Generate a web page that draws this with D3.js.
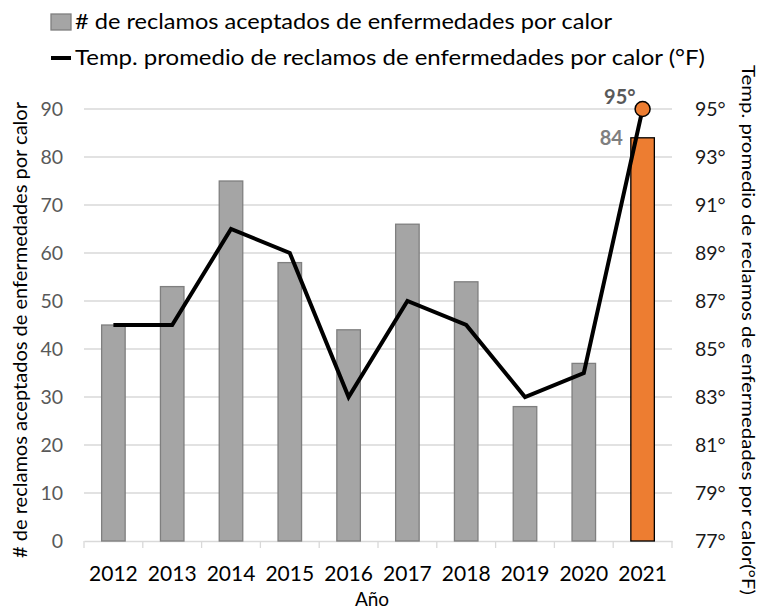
<!DOCTYPE html>
<html><head><meta charset="utf-8">
<script src="https://cdn.jsdelivr.net/npm/d3@7"></script>
<style>html,body{margin:0;padding:0;background:#fff;}svg{display:block;font-family:Lato,sans-serif;}</style>
</head><body><svg id="c" width="758" height="613"></svg>
<script>
const years = ["2012","2013","2014","2015","2016","2017","2018","2019","2020","2021"];
const claims = [45, 53, 75, 58, 44, 66, 54, 28, 37, 84];
const temps = [86, 86, 90, 89, 83, 87, 86, 83, 84, 95];
const leftTicks = [0,10,20,30,40,50,60,70,80,90];
const rightTicks = [77,79,81,83,85,87,89,91,93,95];
const seriesNames = ["# de reclamos aceptados de enfermedades por calor", "Temp. promedio de reclamos de enfermedades por calor  (°F)"];
const leftTitle = "# de reclamos aceptados de enfermedades por calor";
const rightTitle = "Temp. promedio de reclamos de enfermedades por calor(°F)";
const xTitle = "Año";

const svg = d3.select("#c");
const pL = 84, pR = 672, pT = 109, pB = 541;
const x = d3.scaleBand().domain(years).range([pL, pR]).padding(0);
const yL = d3.scaleLinear().domain([0, 90]).range([pB, pT]);
const yR = d3.scaleLinear().domain([77, 95]).range([pB, pT]);
const font = "Lato, sans-serif";

// gridlines
svg.append("g").selectAll("line").data(leftTicks.filter(d => d > 0)).join("line")
  .attr("x1", pL).attr("x2", pR).attr("y1", d => yL(d)).attr("y2", d => yL(d))
  .attr("stroke", "#d9d9d9").attr("stroke-width", 1.3);

// bottom axis
const xAxis = svg.append("g").attr("transform", `translate(0,${pB})`)
  .call(d3.axisBottom(x).tickSize(0));
xAxis.select(".domain").attr("stroke", "#d9d9d9").attr("stroke-width", 1.3);
xAxis.selectAll("text").attr("y", 40).attr("dy", 0)
  .attr("font-family", font).attr("font-size", 21).attr("fill", "#000");
const bounds = years.map(y => x(y)).concat([pR]);
svg.append("g").selectAll("line").data(bounds).join("line")
  .attr("x1", d => d).attr("x2", d => d).attr("y1", pB).attr("y2", pB + 7)
  .attr("stroke", "#d9d9d9").attr("stroke-width", 1.3);

// left axis labels
const lAx = svg.append("g").attr("transform", `translate(${pL},0)`)
  .call(d3.axisLeft(yL).tickValues(leftTicks).tickSize(0).tickPadding(21));
lAx.select(".domain").remove();
lAx.selectAll("text").attr("font-family", font).attr("font-size", 19.5).attr("fill", "#595959");

// right axis labels
const rAx = svg.append("g").attr("transform", `translate(${pR},0)`)
  .call(d3.axisRight(yR).tickValues(rightTicks).tickSize(0).tickPadding(23).tickFormat(d => d + "°"));
rAx.select(".domain").remove();
rAx.selectAll("text").attr("font-family", font).attr("font-size", 19.5).attr("fill", "#1a1a1a");

// bars
const bw = x.bandwidth() * 0.40;
svg.append("g").selectAll("rect").data(years).join("rect")
  .attr("x", (d) => x(d) + x.bandwidth()/2 - bw/2)
  .attr("y", (d,i) => yL(claims[i]))
  .attr("width", bw)
  .attr("height", (d,i) => pB - yL(claims[i]))
  .attr("fill", (d,i) => i === years.length-1 ? "#ed7d31" : "#a5a5a5")
  .attr("stroke", (d,i) => i === years.length-1 ? "#000" : "#7f7f7f")
  .attr("stroke-width", 1.3);

// line
const line = d3.line().x((d,i) => x(years[i]) + x.bandwidth()/2).y(d => yR(d));
svg.append("path").datum(temps).attr("d", line)
  .attr("fill", "none").attr("stroke", "#000").attr("stroke-width", 4).attr("stroke-linejoin", "miter");

// marker on last point
const li = years.length - 1;
svg.append("circle").attr("cx", x(years[li]) + x.bandwidth()/2).attr("cy", yR(temps[li]))
  .attr("r", 7.5).attr("fill", "#ed7d31").attr("stroke", "#000").attr("stroke-width", 1.5);

// data labels
svg.append("text").attr("x", x(years[li]) + x.bandwidth()/2 - 7).attr("y", yR(temps[li]) - 5)
  .attr("text-anchor", "end").attr("font-family", font).attr("font-weight", "bold")
  .attr("font-size", 20).attr("fill", "#595959").text(temps[li] + "°");
svg.append("text").attr("x", x(years[li]) + x.bandwidth()/2 - bw/2 - 8).attr("y", yL(claims[li]) + 7)
  .attr("text-anchor", "end").attr("font-family", font).attr("font-weight", "bold")
  .attr("font-size", 20).attr("fill", "#7f7f7f").text(claims[li]);

// axis titles
svg.append("text").attr("transform", `translate(27,330) rotate(-90)`)
  .attr("text-anchor", "middle").attr("font-family", font).attr("font-size", 18.5).attr("fill", "#000")
  .attr("textLength", 456).attr("lengthAdjust", "spacingAndGlyphs")
  .text(leftTitle);
svg.append("text").attr("transform", `translate(742,330) rotate(90)`)
  .attr("text-anchor", "middle").attr("font-family", font).attr("font-size", 17).attr("fill", "#000")
  .attr("textLength", 530).attr("lengthAdjust", "spacingAndGlyphs")
  .text(rightTitle);
svg.append("text").attr("x", 372).attr("y", 606)
  .attr("text-anchor", "middle").attr("font-family", font).attr("font-size", 19).attr("fill", "#000").text(xTitle);

// legend
const lg = svg.append("g");
lg.append("rect").attr("x", 51).attr("y", 14).attr("width", 20).attr("height", 16)
  .attr("fill", "#a5a5a5").attr("stroke", "#7f7f7f").attr("stroke-width", 1.3);
lg.append("text").attr("x", 75).attr("y", 29).attr("font-family", font).attr("font-size", 21).attr("fill", "#000")
  .attr("textLength", 537).attr("lengthAdjust", "spacingAndGlyphs").text(seriesNames[0]);
lg.append("line").attr("x1", 51).attr("x2", 71).attr("y1", 58).attr("y2", 58).attr("stroke", "#000").attr("stroke-width", 4);
lg.append("text").attr("x", 75).attr("y", 65).attr("font-family", font).attr("font-size", 21).attr("fill", "#000")
  .attr("textLength", 630).attr("lengthAdjust", "spacingAndGlyphs").text(seriesNames[1]);
</script></body></html>
